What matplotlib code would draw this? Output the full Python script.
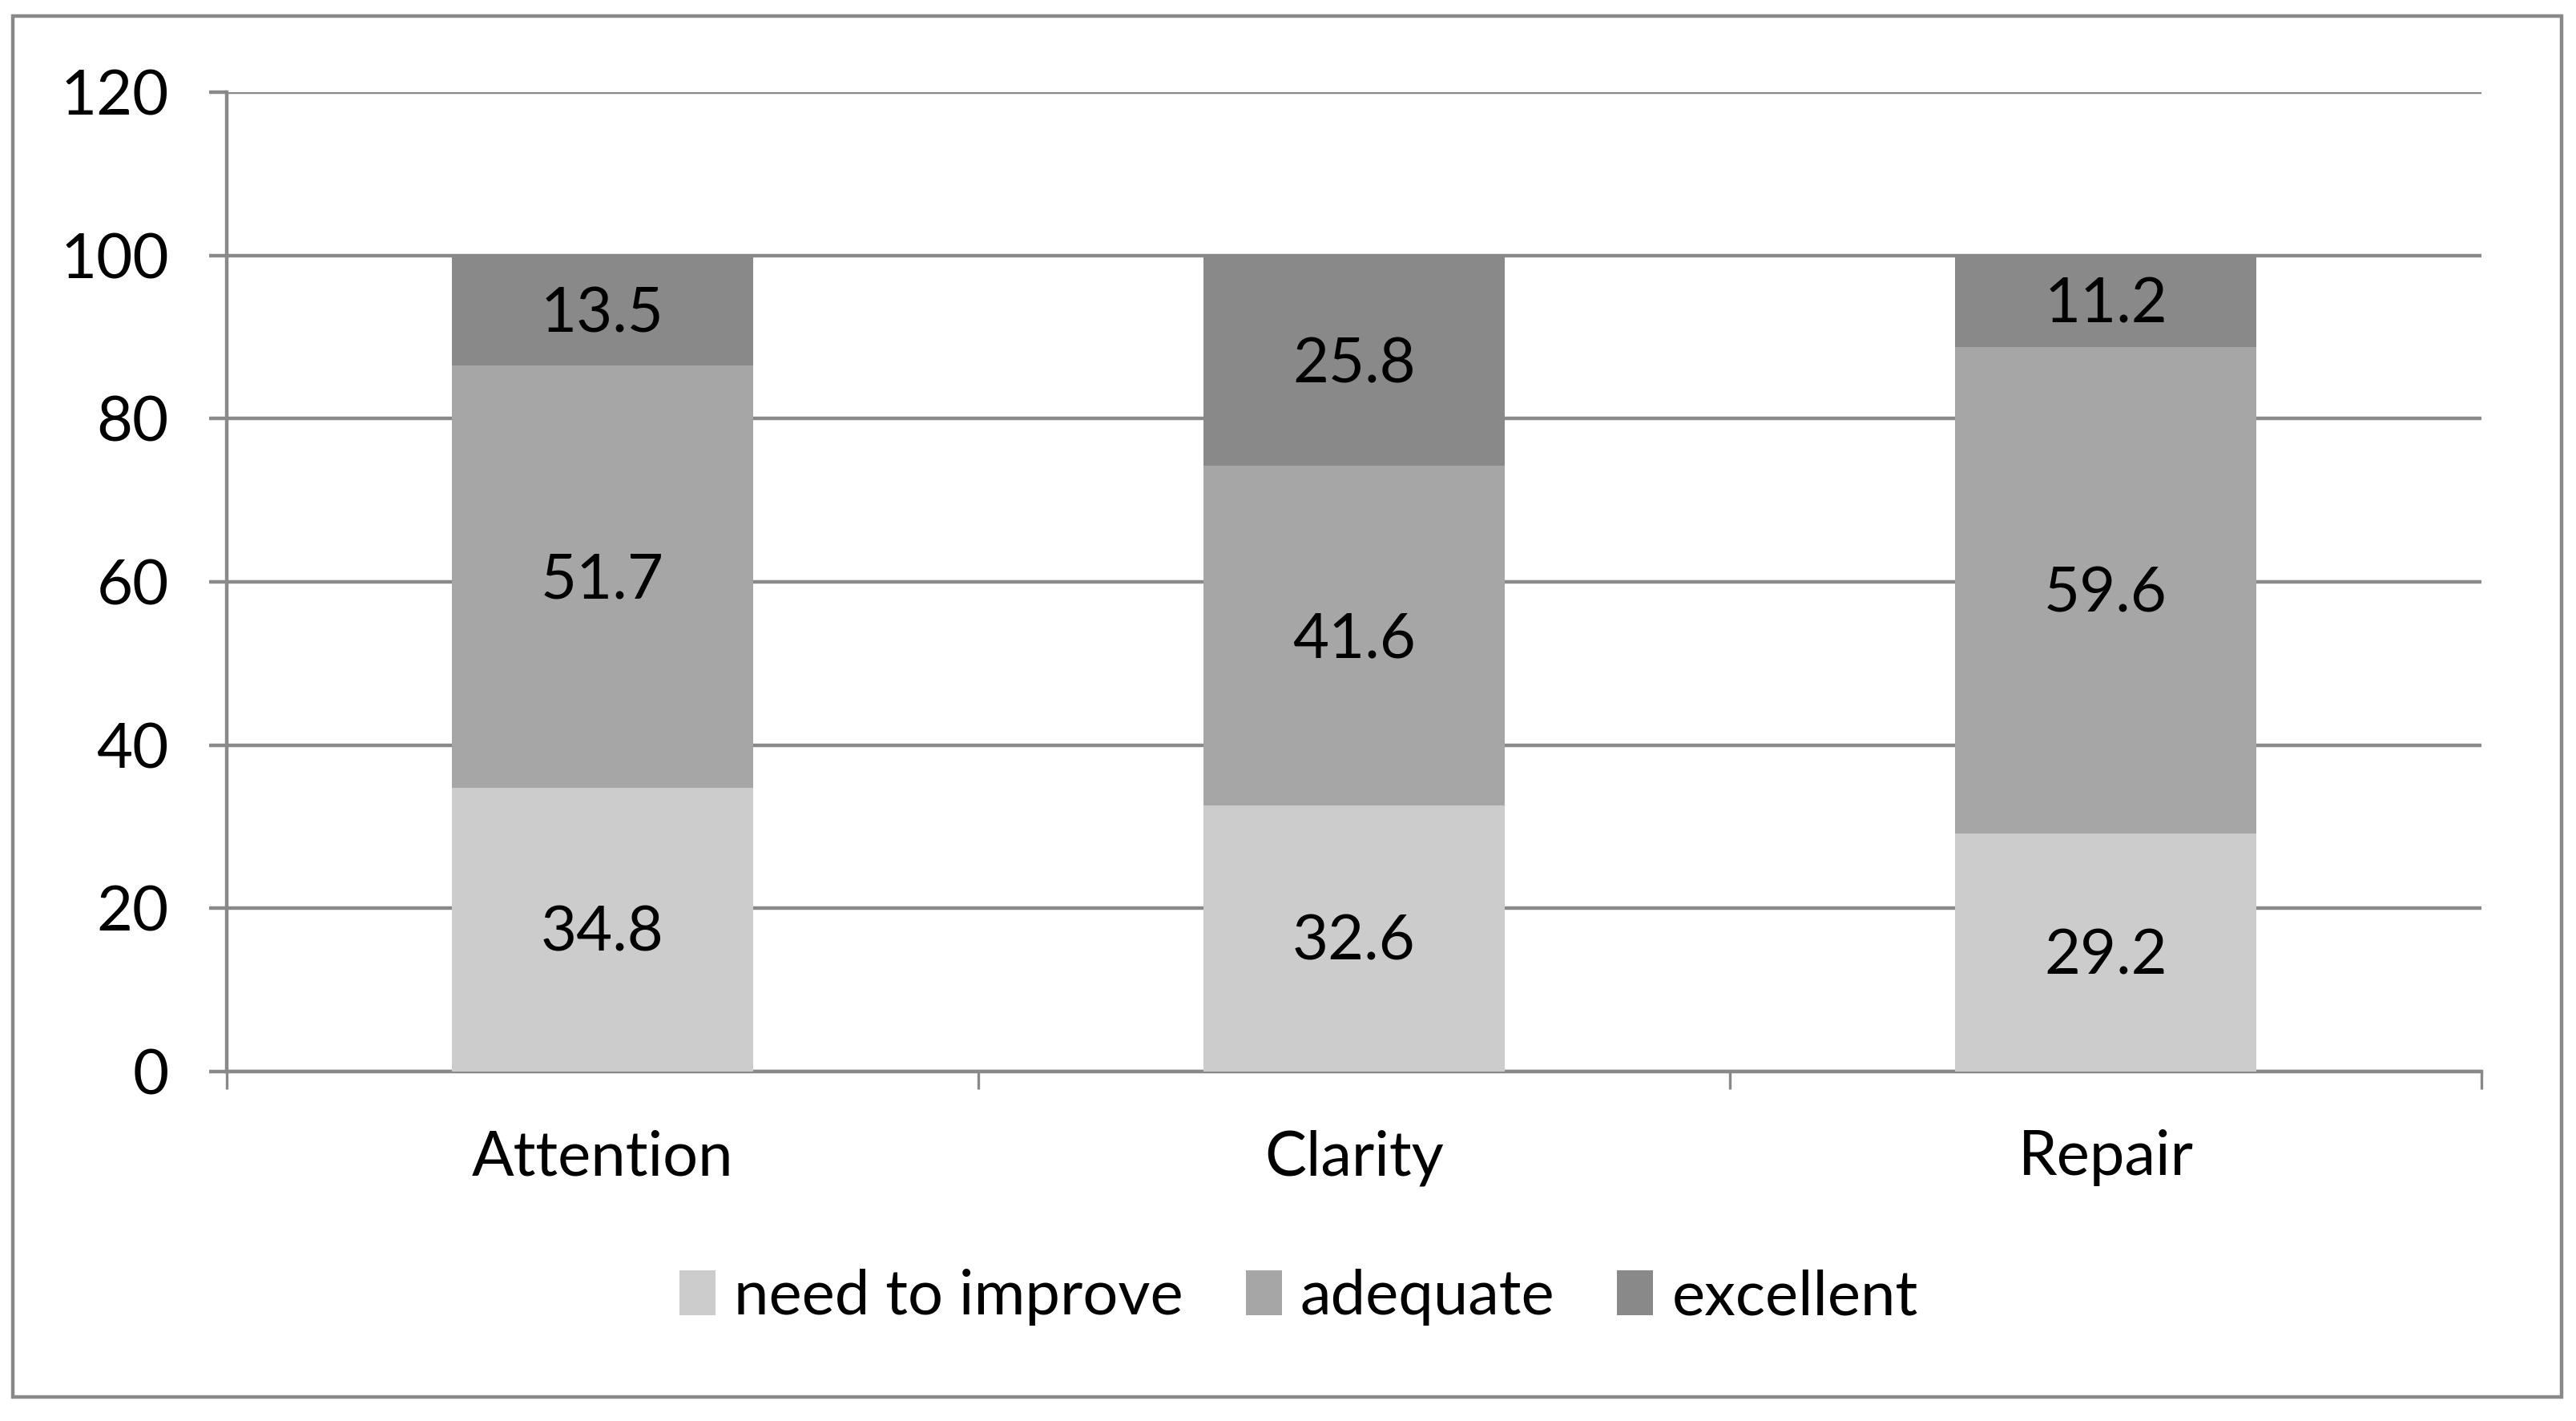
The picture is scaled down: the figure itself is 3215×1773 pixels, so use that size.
import matplotlib
matplotlib.use("Agg")
import matplotlib.pyplot as plt
import numpy as np
from matplotlib.patches import Rectangle

categories = ["Attention", "Clarity", "Repair"]
series_names = ["need to improve", "adequate", "excellent"]
need_to_improve = [34.8, 32.6, 29.2]
adequate = [51.7, 41.6, 59.6]
excellent = [13.5, 25.8, 11.2]
yticks = [0, 20, 40, 60, 80, 100, 120]

COLORS = ["#CCCCCC", "#A6A6A6", "#898989"]
GRID = "#898989"
FS = 28

plt.rcParams.update({
    "font.family": ["Lato", "DejaVu Sans"],
    "font.size": FS,
})

fig = plt.figure(figsize=(16.08, 8.865), dpi=200)
ax = fig.add_axes([0.088, 0.246, 0.875, 0.689])

# рамка вокруг всей диаграммы
fig.patches.append(Rectangle((0.005, 0.017), 0.989, 0.972, transform=fig.transFigure,
                             fill=False, edgecolor=GRID, linewidth=1.6))

x = np.arange(len(categories))
width = 0.4
bottom = np.zeros(len(categories))
for name, vals, col in zip(series_names, [need_to_improve, adequate, excellent], COLORS):
    vals = np.array(vals)
    ax.bar(x, vals, width, bottom=bottom, color=col, label=name, zorder=3)
    for xi, b, v in zip(x, bottom, vals):
        ax.annotate(f"{v:.1f}", (xi, b + v / 2), xytext=(0, -2), textcoords="offset points",
                    ha="center", va="center", fontsize=FS, zorder=4)
    bottom += vals

ax.set_xlim(-0.5, len(categories) - 0.5)
ax.set_ylim(0, 120)
ax.set_yticks(yticks)
ax.grid(True, axis="y", color=GRID, linewidth=1.6, zorder=0)

ax.set_xticks(x)
ax.set_xticklabels(categories)
ax.set_xticks(np.arange(len(categories) + 1) - 0.5, minor=True)
ax.tick_params(axis="x", which="major", length=0, pad=26)
ax.tick_params(axis="x", which="minor", length=8, width=1.2, color=GRID, direction="out")
ax.tick_params(axis="y", length=8, width=1.6, color=GRID, pad=18)

for s in ["top", "right"]:
    ax.spines[s].set_visible(False)
for s in ["left", "bottom"]:
    ax.spines[s].set_color(GRID)
    ax.spines[s].set_linewidth(1.6)

fig.legend(loc="center", bbox_to_anchor=(0.504, 0.087), ncol=3, frameon=False,
           handlelength=0.58, handleheight=0.74, handletextpad=0.3, columnspacing=1.0,
           fontsize=FS)

fig.savefig("out.png", dpi=200)
